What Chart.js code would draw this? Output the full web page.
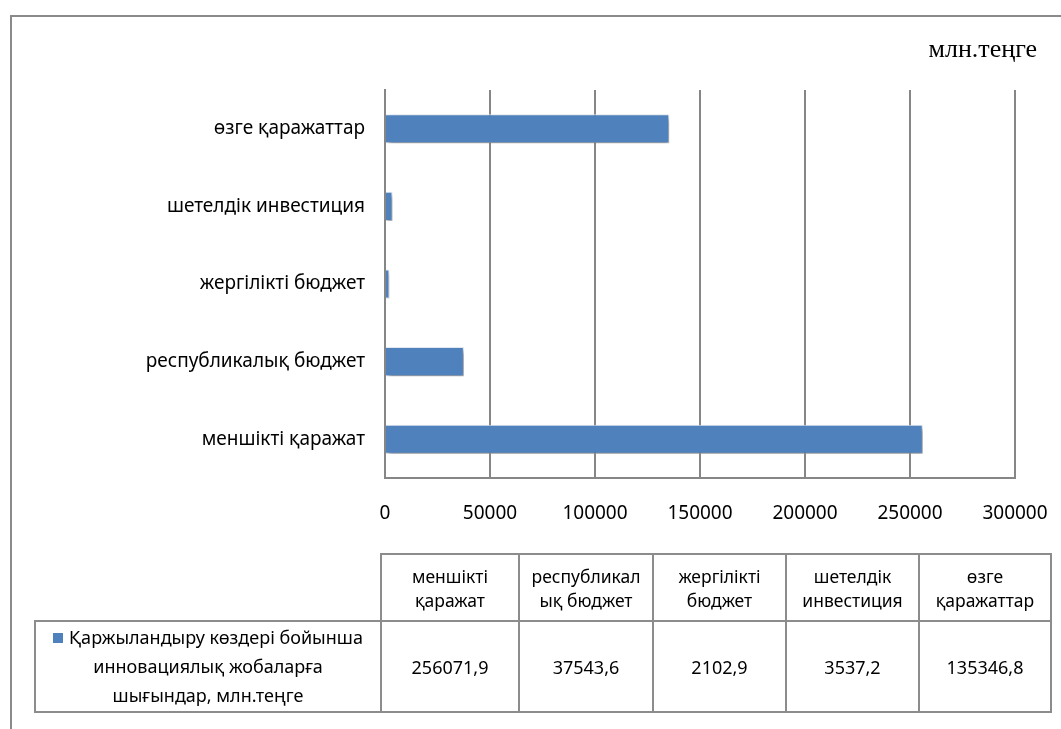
<!DOCTYPE html>
<html>
<head>
<meta charset="utf-8">
<script src="https://cdn.jsdelivr.net/npm/chart.js@4/dist/chart.umd.min.js"></script>
<style>
  html, body { margin: 0; padding: 0; background: #fff; }
  #wrap { position: relative; width: 1061px; height: 729px; overflow: hidden; }
  #frame { position: absolute; left: 10px; top: 15px; width: 1100px; height: 800px;
           border-left: 2px solid #8a8a8a; border-top: 2px solid #8a8a8a; }
  #chart { position: absolute; left: 0; top: 0; }
  #unit { position: absolute; right: 24px; top: 34px; font: 26px "Liberation Serif", serif; color: #000; }
  #tbl { position: absolute; left: 34px; top: 553px; width: 1016px; table-layout: fixed;
         border-collapse: collapse; font-family: "Noto Sans", sans-serif; color: #000; }
  #tbl td { border: 2px solid #8c8c8c; text-align: center; padding: 0; }
  #tbl tr.head td { height: 65px; font-size: 17.5px; line-height: 24px; }
  #tbl tr.vals td { height: 89px; font-size: 18px; }
  #tbl tr.head td.blank { border: none; border-bottom: 2px solid #8c8c8c; }
  #tbl td.series { font-size: 18.5px; line-height: 29px; }
  .mark { display: inline-block; width: 10px; height: 10px; background: #4f81bd; margin-right: 6px; vertical-align: 1px; }
</style>
</head>
<body>
<div id="wrap">
  <div id="frame"></div>
  <canvas id="chart" width="1061" height="729"></canvas>
  <div id="unit">млн.теңге</div>
  <table id="tbl"></table>
</div>
<script>
(function () {
  // --- data ---
  const categories = ['меншікті қаражат', 'республикалық бюджет', 'жергілікті бюджет', 'шетелдік инвестиция', 'өзге қаражаттар'];
  const tableHeads = [['меншікті', 'қаражат'], ['республикал', 'ық бюджет'], ['жергілікті', 'бюджет'], ['шетелдік', 'инвестиция'], ['өзге', 'қаражаттар']];
  const values = [256071.9, 37543.6, 2102.9, 3537.2, 135346.8];
  const seriesName = ['Қаржыландыру көздері бойынша', 'инновациялық жобаларға', 'шығындар, млн.теңге'];
  const xTicks = [0, 50000, 100000, 150000, 200000, 250000, 300000];

  const blue = '#4f81bd';
  const grid = '#868686';
  const font = '"Noto Sans", sans-serif';

  // drop shadow under the bars
  const shadow = {
    id: 'barShadow',
    beforeDatasetsDraw(chart) {
      const c = chart.ctx;
      c.save();
      c.shadowColor = 'rgba(0,0,0,0.45)';
      c.shadowBlur = 5;
      c.shadowOffsetX = 2;
      c.shadowOffsetY = 3;
    },
    afterDatasetsDraw(chart) { chart.ctx.restore(); }
  };

  new Chart(document.getElementById('chart'), {
    type: 'bar',
    data: {
      labels: categories,
      datasets: [{
        label: seriesName.join(' '),
        data: values,
        backgroundColor: blue,
        borderColor: '#e6edf6',
        borderWidth: 1,
        barPercentage: 0.5,
        categoryPercentage: 0.75
      }]
    },
    options: {
      indexAxis: 'y',
      responsive: false,
      animation: false,
      layout: { padding: { left: 0, top: 90, right: 46, bottom: 201 } },
      plugins: { legend: { display: false }, tooltip: { enabled: false } },
      scales: {
        x: {
          min: xTicks[0],
          max: xTicks[xTicks.length - 1],
          afterBuildTicks: (s) => { s.ticks = xTicks.map(v => ({ value: v })); },
          afterFit: (s) => { s.height = 50; s.paddingLeft = 0; s.paddingRight = 0; },
          grid: { color: grid, lineWidth: 2, drawTicks: false },
          border: { color: grid, width: 2 },
          ticks: { padding: 24, color: '#000', font: { family: font, size: 19 }, callback: (v) => String(v) }
        },
        y: {
          reverse: true,
          afterFit: (s) => { s.width = 385; s.paddingTop = 0; s.paddingBottom = 0; },
          grid: { display: false, drawTicks: false },
          border: { color: grid, width: 2 },
          ticks: { padding: 20, color: '#000', font: { family: font, size: 19 } }
        }
      }
    },
    plugins: [shadow]
  });

  // data table under the chart
  const tbl = document.getElementById('tbl');
  const colW = [346, 138, 134, 133, 133, 132];
  let html = '<colgroup>' + colW.map(w => '<col style="width:' + w + 'px">').join('') + '</colgroup>';
  html += '<tr class="head"><td class="blank"></td>';
  tableHeads.forEach(h => { html += '<td>' + h.join('<br>') + '</td>'; });
  html += '</tr><tr class="vals"><td class="series"><span class="mark"></span>' + seriesName.join('<br>') + '</td>';
  values.forEach(v => { html += '<td>' + v.toFixed(1).replace('.', ',') + '</td>'; });
  html += '</tr>';
  tbl.innerHTML = html;
})();
</script>
</body>
</html>
